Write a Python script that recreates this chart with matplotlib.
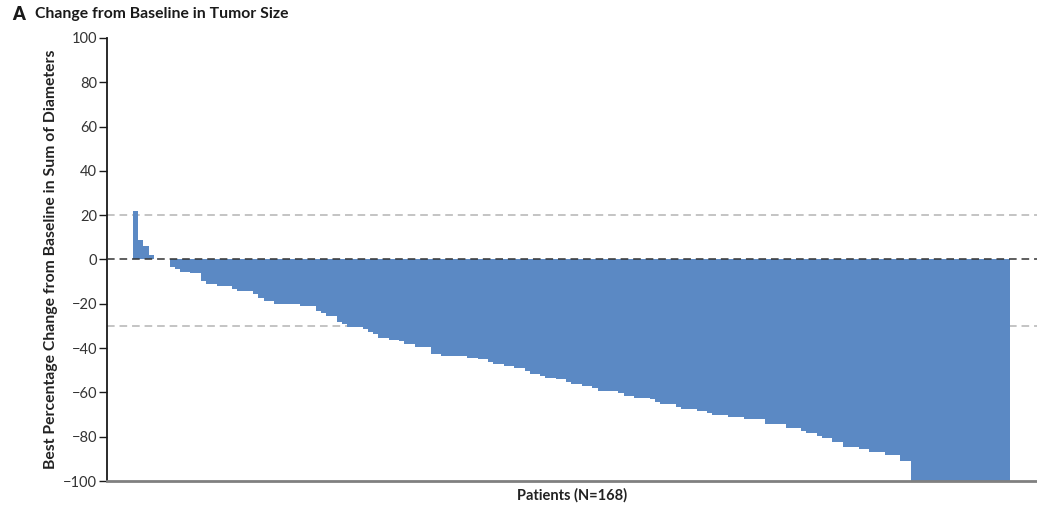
import matplotlib
matplotlib.use("Agg")
import matplotlib.pyplot as plt
import numpy as np

plt.rcParams['font.family'] = ['Lato', 'DejaVu Sans']

# Best percentage change from baseline in sum of diameters, one value per patient (sorted)
best_change = [
    22, 9, 6, 2, 0, 0, 0,
    -3.2, -4.3, -5.5, -5.5, -6.2, -6.2, -9.6, -11.2, -11.2, -12.1,
    -12.1, -12.1, -13.2, -14.2, -14.2, -14.2, -15.4, -17.5, -18.6, -18.6,
    -20.2, -20.2, -20.2, -20.2, -20.2, -21, -21, -21, -23.1, -24.3,
    -25.4, -25.4, -28.1, -29.3, -30.3, -30.3, -30.3, -31.4, -32.6, -33.8,
    -35.3, -35.3, -36.3, -36.3, -37, -38.3, -38.3, -39.4, -39.4, -39.4,
    -42.7, -42.7, -43.6, -43.6, -43.6, -43.6, -43.6, -44.6, -44.6, -45.1,
    -45.1, -46.1, -47.2, -47.2, -48.1, -48.1, -49.1, -49.1, -50.3, -51.7,
    -51.7, -52.5, -53.6, -53.6, -54.1, -54.1, -55.2, -56.2, -56.2, -57.1,
    -57.1, -58.2, -59.4, -59.4, -59.4, -59.4, -60.4, -61.5, -61.5, -62.7,
    -62.7, -62.7, -63.1, -64.3, -65.4, -65.4, -65.4, -66.4, -67.4, -67.4,
    -67.4, -68.4, -68.4, -69.4, -70.3, -70.3, -70.3, -71, -71, -71,
    -72.1, -72.1, -72.1, -72.1, -74.1, -74.1, -74.1, -74.3, -76.2, -76.2,
    -76.2, -77.3, -78.5, -78.5, -79.7, -80.4, -80.4, -82.3, -82.3, -84.5,
    -84.5, -84.5, -85.7, -85.7, -86.8, -86.8, -86.8, -88.3, -88.3, -88.3,
    -91, -91,
    -100, -100, -100, -100, -100, -100, -100, -100, -100, -100,
    -100, -100, -100, -100, -100, -100, -100, -100, -100,
]
y_ticks = [100, 80, 60, 40, 20, 0, -20, -40, -60, -80, -100]
reference_levels = [20, -30]

patients = np.arange(len(best_change))

fig = plt.figure(figsize=(10.37, 5.05), dpi=100)
ax = fig.add_axes([0.1032, 0.0475, 0.8968, 0.8773])

# Response thresholds behind the bars
for level in reference_levels:
    ax.axhline(level, color='#b4b4b4', lw=1.1, dashes=(5, 3.2), zorder=1)

ax.bar(patients, best_change, width=1.0, color='#5b89c4', edgecolor='none',
       linewidth=0, zorder=2)

# Baseline on top of the bars
ax.axhline(0, color='#333333', lw=1.1, dashes=(5, 3.2), zorder=3)

ax.set_xlim(-5.48, 172.68)
ax.set_ylim(-100, 100)
ax.set_yticks(y_ticks)
ax.set_yticklabels([f"{t}".replace('-', '\u2212') for t in y_ticks])
ax.set_xticks([])

ax.spines['top'].set_visible(False)
ax.spines['right'].set_visible(False)
ax.spines['left'].set_color('#1a1a1a')
ax.spines['left'].set_linewidth(1.3)
ax.spines['bottom'].set_color('#808080')
ax.spines['bottom'].set_linewidth(2.0)

ax.tick_params(axis='y', direction='out', length=6, width=1.0, color='#1a1a1a',
               labelsize=10.5, labelcolor='#333333', pad=1)

ax.set_ylabel('Best Percentage Change from Baseline in Sum of Diameters',
              fontsize=11.3, fontweight='bold', color='#222222', labelpad=4)
ax.set_xlabel('Patients (N=168)', fontsize=10.5, fontweight='bold',
              color='#222222', labelpad=5)

fig.text(0.0115, 0.972, 'A', fontsize=13, fontweight='heavy', color='#1a1a1a',
         va='center', ha='left')
fig.text(0.0335, 0.972, 'Change from Baseline in Tumor Size', fontsize=11.3,
         fontweight='bold', color='#1a1a1a', va='center', ha='left')

fig.savefig('out.png', dpi=100)
